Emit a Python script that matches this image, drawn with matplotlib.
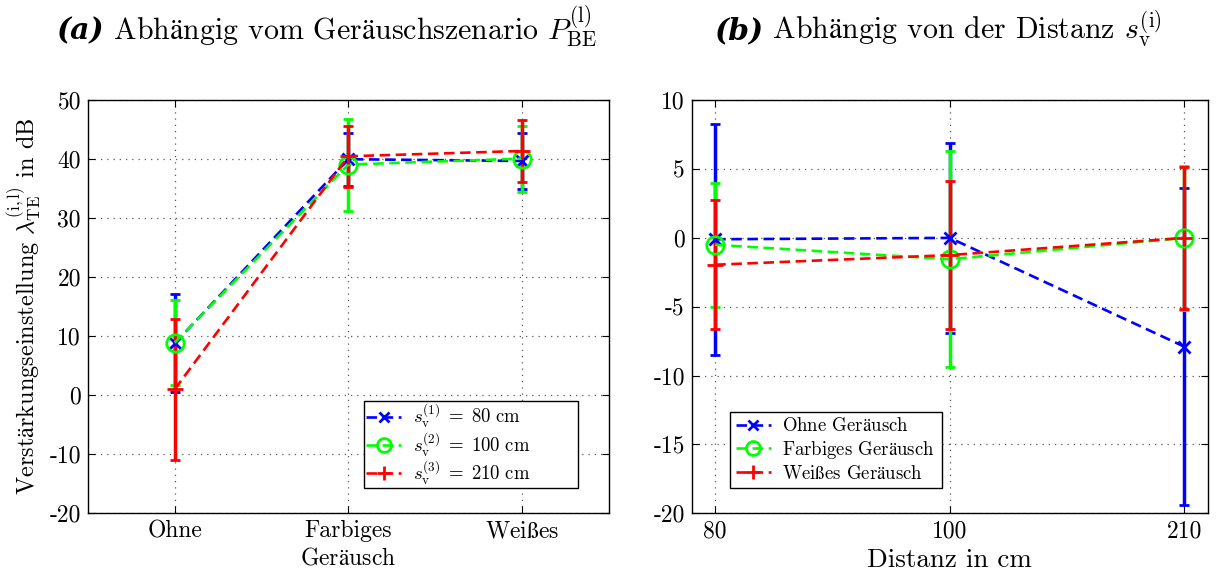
import matplotlib
matplotlib.use("Agg")
import matplotlib.pyplot as plt

plt.rcParams["font.family"] = ["cmr10", "DejaVu Serif"]
plt.rcParams["mathtext.fontset"] = "cm"
plt.rcParams["axes.unicode_minus"] = False
plt.rcParams["axes.formatter.use_mathtext"] = False

# cmr10 has no umlaut glyphs, mathtext \mathrm picks them up
AE = r"$\mathrm{ä}$"
SS = r"$\mathrm{ß}$"

# (a) depending on noise scenario
cats_a = ["Ohne", "Farbiges\nGer" + AE + "usch", "Wei" + SS + "es"]
mean_a_80 = [8.8, 40.0, 39.7]
err_a_80 = [8.3, 4.5, 4.7]
mean_a_100 = [8.9, 39.1, 40.1]
err_a_100 = [7.2, 7.8, 5.6]
mean_a_210 = [1.0, 40.5, 41.4]
err_a_210 = [11.9, 5.2, 5.2]
labels_a = [r"$s_{\rm v}^{(1)}\;=\;80\ {\rm cm}$",
            r"$s_{\rm v}^{(2)}\;=\;100\ {\rm cm}$",
            r"$s_{\rm v}^{(3)}\;=\;210\ {\rm cm}$"]

# (b) depending on distance
cats_b = ["80", "100", "210"]
mean_b_ohne = [-0.1, 0.0, -7.9]
err_b_ohne = [8.4, 6.9, 11.5]
mean_b_farb = [-0.5, -1.55, 0.0]
err_b_farb = [4.5, 7.85, 5.25]
mean_b_weiss = [-1.95, -1.25, 0.0]
err_b_weiss = [4.7, 5.4, 5.15]
labels_b = ["Ohne Ger" + AE + "usch", "Farbiges Ger" + AE + "usch",
            "Wei" + SS + "es Ger" + AE + "usch"]

colors = [(0, 0, 1), (0, 1, 0), (1, 0, 0)]
markers = ["x", "o", "+"]
msizes = [8.5, 12.5, 12]

fig = plt.figure(figsize=(12.2, 5.76), dpi=100)
ax1 = fig.add_axes([0.072, 0.109, 0.427, 0.717])
ax2 = fig.add_axes([0.567, 0.109, 0.423, 0.717])


def draw(ax, cats, means, errs, labels):
    xs = list(range(1, len(cats) + 1))
    for m, e, c, mk, ms, lab in zip(means, errs, colors, markers, msizes, labels):
        ln, caps, bars = ax.errorbar(xs, m, yerr=e, color=c, ls="--", lw=1.9,
                                     marker=mk, ms=ms, mfc="none", mew=2.0,
                                     elinewidth=2.5, capsize=3.8, capthick=2.2,
                                     label=lab)
        ln.set_dashes([4, 2.1])
    ax.set_xticks(xs)
    ax.set_xticklabels(cats, linespacing=1.3)
    ax.grid(True, ls=(0, (1, 4)), color="0.35", lw=0.9)
    ax.tick_params(direction="in", top=True, right=True, labelsize=17,
                   length=5, pad=5)
    for s in ax.spines.values():
        s.set_linewidth(1.0)
    handles, labs = ax.get_legend_handles_labels()
    handles = [h[0] for h in handles]
    return handles, labs


leg_kw = dict(fontsize=13.5, fancybox=False, edgecolor="black", framealpha=1,
              handlelength=1.9, handletextpad=0.6, markerscale=0.8,
              borderaxespad=0, loc="lower left", mode="expand")

h, l = draw(ax1, cats_a, [mean_a_80, mean_a_100, mean_a_210],
            [err_a_80, err_a_100, err_a_210], labels_a)
ax1.set_xlim(0.5, 3.5)
ax1.set_ylim(-20, 50)
ax1.set_yticks(range(-20, 51, 10))
ax1.set_ylabel("Verst" + AE + r"rkungseinstellung $\lambda_{\rm TE}^{(\rm i,l)}$ in dB",
               fontsize=17.5, labelpad=4)
leg = ax1.legend(h, l, bbox_to_anchor=(0.53, 0.06, 0.411, 0.1),
                 borderpad=0.1, labelspacing=0.0, **leg_kw)
leg.get_frame().set_linewidth(1.0)

h, l = draw(ax2, cats_b, [mean_b_ohne, mean_b_farb, mean_b_weiss],
            [err_b_ohne, err_b_farb, err_b_weiss], labels_b)
ax2.set_xlim(0.9, 3.1)
ax2.set_ylim(-20, 10)
ax2.set_yticks(range(-20, 11, 5))
ax2.set_xlabel("Distanz in cm", fontsize=19.5, labelpad=4)
leg = ax2.legend(h, l, bbox_to_anchor=(0.074, 0.06, 0.411, 0.1),
                 borderpad=0.3, labelspacing=0.2, **leg_kw)
leg.get_frame().set_linewidth(1.0)

# titles: bold italic tag followed by regular text on the same baseline
titles = [(0.046, "(a)", " Abh" + AE + "ngig vom Ger" + AE + r"uschszenario $P_{\rm BE}^{(\rm l)}$"),
          (0.585, "(b)", " Abh" + AE + r"ngig von der Distanz $s_{\rm v}^{(\rm i)}$")]
fig.canvas.draw()
renderer = fig.canvas.get_renderer()
for x, tag, txt in titles:
    t = fig.text(x, 0.932, tag, fontsize=21.5, fontweight="bold",
                 fontstyle="italic", family="DejaVu Serif", va="baseline")
    x1 = t.get_window_extent(renderer).x1 / fig.bbox.width
    fig.text(x1, 0.932, txt, fontsize=21.5, va="baseline")

fig.savefig("out.png", dpi=100)
